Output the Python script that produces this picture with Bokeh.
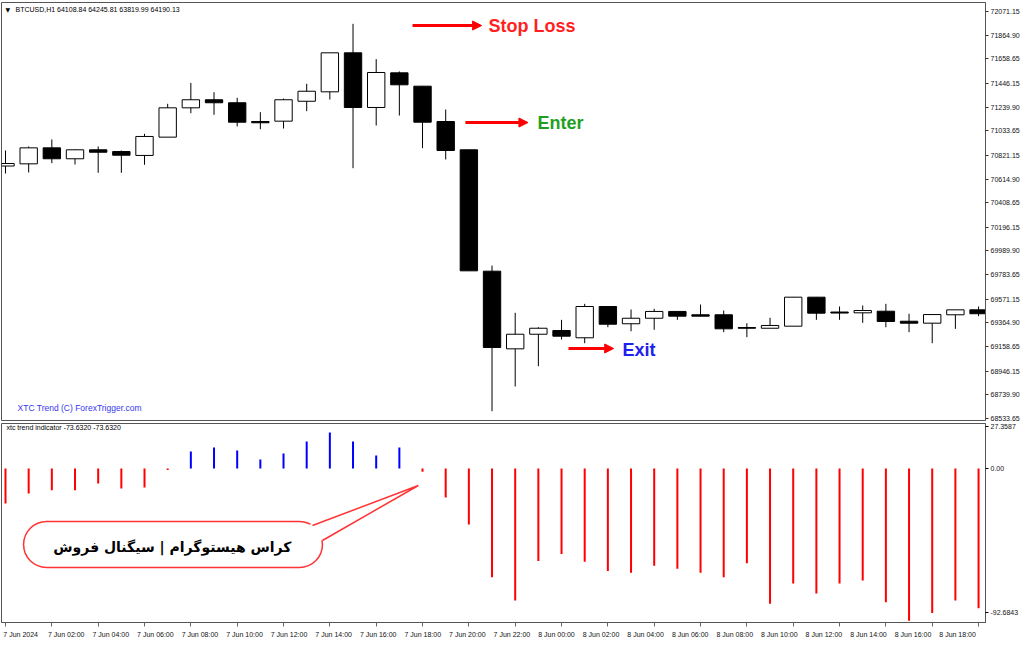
from bokeh.plotting import figure
from bokeh.layouts import column
from bokeh.models import (ColumnDataSource, Range1d, FixedTicker, PrintfTickFormatter,
                          Label, Arrow, NormalHead, BoxAnnotation)
from bokeh.core.properties import value
from bokeh.embed import file_html
from bokeh.resources import INLINE

# ---------------- data ----------------
hours = list(range(43))  # hours since 7 Jun 2024 00:00 (H1 bars)
opens = [70728, 70747, 70886, 70791, 70869, 70854, 70820, 70979, 71234, 71304,
         71278, 71115, 71118, 71291, 71373, 71712, 71237, 71538, 71422, 71115,
         70869, 69814, 69139, 69266, 69298, 69235, 69507, 69357, 69405, 69464,
         69435, 69435, 69324, 69318, 69336, 69588, 69459, 69452, 69466, 69379,
         69362, 69435, 69478]
highs = [70863, 70898, 70959, 70872, 70898, 70863, 71008, 71269, 71451, 71370,
         71321, 71196, 71315, 71443, 71712, 71964, 71657, 71550, 71422, 71219,
         70869, 69863, 69452, 69327, 69391, 69530, 69507, 69481, 69487, 69464,
         69524, 69472, 69362, 69409, 69588, 69588, 69507, 69516, 69530, 69444,
         69437, 69478, 69507]
lows = [70663, 70672, 70753, 70741, 70669, 70669, 70739, 70979, 71187, 71173,
        71072, 71048, 71054, 71205, 71306, 70709, 71080, 71167, 70883, 70785,
        69817, 68597, 68812, 68988, 69220, 69188, 69327, 69292, 69305, 69391,
        69423, 69284, 69240, 69318, 69336, 69391, 69391, 69365, 69327, 69284,
        69188, 69313, 69423]
closes = [70750, 70886, 70791, 70869, 70848, 70822, 70985, 71234, 71304, 71278,
          71109, 71104, 71304, 71378, 71712, 71237, 71541, 71434, 71109, 70863,
          69817, 69151, 69266, 69318, 69249, 69507, 69353, 69405, 69464, 69423,
          69423, 69313, 69318, 69342, 69588, 69449, 69450, 69472, 69377, 69362,
          69437, 69478, 69444]
xtc_trend = [-22.5, -16, -14, -14, -9.7, -12.9, -12.2, -1.0, 11, 13.5,
             11.6, 5.8, 9.7, 17.4, 23.2, 17.4, 8.4, 13.5, -2.0, -18.7,
             -36, -70, -85, -59.5, -55, -60, -66, -67, -62.5, -64.5,
             -67, -70, -61, -87, -74, -80.5, -74, -72, -86, -98,
             -93, -85, -90]

price_ticks = [72071.15, 71864.90, 71658.65, 71446.15, 71239.90, 71033.65,
               70821.15, 70614.90, 70408.65, 70196.15, 69989.90, 69783.65,
               69571.15, 69364.90, 69158.65, 68946.15, 68739.90, 68533.65]
ind_ticks = [27.3587, 0.0, -92.6843]
ind_tick_labels = ["27.3587", "0.00", "-92.6843"]
time_ticks = list(range(0, 43, 2))
time_labels = ["7 Jun 2024", "7 Jun 02:00", "7 Jun 04:00", "7 Jun 06:00", "7 Jun 08:00",
               "7 Jun 10:00", "7 Jun 12:00", "7 Jun 14:00", "7 Jun 16:00", "7 Jun 18:00",
               "7 Jun 20:00", "7 Jun 22:00", "8 Jun 00:00", "8 Jun 02:00", "8 Jun 04:00",
               "8 Jun 06:00", "8 Jun 08:00", "8 Jun 10:00", "8 Jun 12:00", "8 Jun 14:00",
               "8 Jun 16:00", "8 Jun 18:00"]

# ---------------- sources ----------------
candles = ColumnDataSource(dict(
    x=hours, open=opens, high=highs, low=lows, close=closes,
    top=[max(o, c) for o, c in zip(opens, closes)],
    bottom=[min(o, c) for o, c in zip(opens, closes)],
    fill=["white" if c >= o else "black" for o, c in zip(opens, closes)],
))
hist = ColumnDataSource(dict(
    x=hours, y=xtc_trend, y0=[0] * len(hours),
    color=["#0000ff" if v > 0 else "#ff0000" for v in xtc_trend],
))

FONT = "Liberation Sans"
W = 1024
X0, X1 = -0.173, 42.30          # visible hours inside the chart frames
FRAME_W = W - 1 - 39            # frame width in pixels
xr = Range1d(X0, X1)

# ---------------- price panel ----------------
p1 = figure(width=W, height=423, x_range=xr, y_range=Range1d(68516.1, 72149.4),
            y_axis_location="right", x_axis_location=None,
            toolbar_location=None, output_backend="svg",
            min_border_left=1, min_border_right=39, min_border_top=2, min_border_bottom=3)
p1.grid.visible = False
p1.outline_line_color = "#555555"
p1.background_fill_color = "white"
p1.border_fill_color = "white"
ya = p1.yaxis[0]
ya.ticker = FixedTicker(ticks=price_ticks)
ya.formatter = PrintfTickFormatter(format="%.2f")
ya.major_label_text_font = FONT
ya.major_label_text_font_size = "7px"
ya.major_label_text_color = "#111111"
ya.major_tick_out = 3
ya.major_tick_in = 0
ya.major_label_standoff = 2
ya.axis_line_color = "#555555"
ya.major_tick_line_color = "#333333"

p1.segment(x0="x", y0="high", x1="x", y1="low", source=candles,
           line_color="black", line_width=1)
p1.vbar(x="x", top="top", bottom="bottom", width=0.75, source=candles,
        fill_color="fill", line_color="black", line_width=1)

p1.add_layout(Label(x=0.0, y=72088, text="\u25BC", text_font="DejaVu Sans",
                    text_font_size="6px", text_baseline="middle", text_color="black"))
p1.add_layout(Label(x=0.43, y=72088, text="BTCUSD,H1  64108.84 64245.81 63819.99 64190.13",
                    text_font=FONT, text_font_size="7px", text_baseline="middle",
                    text_color="black"))
p1.add_layout(Label(x=0.52, y=68629, text="XTC Trend (C) ForexTrigger.com",
                    text_font=FONT, text_font_size="8.5px", text_baseline="middle",
                    text_color="#3535f0"))

def signal(xs, xe, y, tx, ty, txt, col):
    p1.add_layout(Arrow(x_start=xs, y_start=y, x_end=xe, y_end=y,
                        line_color="#ff0000", line_width=3,
                        end=NormalHead(size=9, fill_color="#ff0000", line_color="#ff0000")))
    p1.add_layout(Label(x=tx, y=ty, text=txt, text_font=FONT, text_font_style="bold",
                        text_font_size="18px", text_baseline="middle", text_color=col))

signal(17.57, 20.55, 71949, 20.85, 71941, "Stop Loss", "#ff1f1f")
signal(19.85, 22.55, 71106, 22.96, 71098, "Enter", "#1f9f1f")
signal(24.30, 26.25, 69142, 26.63, 69125, "Exit", "#2020ee")

# ---------------- indicator panel ----------------
p2 = figure(width=W, height=204, x_range=xr, y_range=Range1d(-99.1, 29.0),
            y_axis_location="right", toolbar_location=None, output_backend="svg",
            min_border_left=1, min_border_right=39, min_border_top=0, min_border_bottom=5)
p2.grid.visible = False
p2.outline_line_color = "#555555"
p2.border_fill_color = "white"
ya2 = p2.yaxis[0]
ya2.ticker = FixedTicker(ticks=ind_ticks)
ya2.major_label_overrides = {t: s for t, s in zip(ind_ticks, ind_tick_labels)}
ya2.major_label_text_font = FONT
ya2.major_label_text_font_size = "7px"
ya2.major_label_text_color = "#111111"
ya2.major_tick_out = 3
ya2.major_tick_in = 0
ya2.major_label_standoff = 2
ya2.axis_line_color = "#555555"

xa = p2.xaxis[0]
xa.ticker = FixedTicker(ticks=time_ticks)
xa.major_label_text_font_size = "0px"
xa.major_label_text_alpha = 0
xa.major_label_standoff = 0
xa.major_tick_out = 4
xa.major_tick_in = 0
xa.axis_line_color = "#555555"
xa.major_tick_line_color = "#666666"

p2.segment(x0="x", y0="y0", x1="x", y1="y", source=hist, line_color="color", line_width=2)

p2.add_layout(Label(x=0.04, y=26.4, text="xtc trend indicator -73.6320 -73.6320",
                    text_font=FONT, text_font_size="7px", text_baseline="middle",
                    text_color="black"))

# callout bubble
p2.add_layout(BoxAnnotation(left=0.78, right=13.68, top=-34.1, bottom=-63.7,
                            fill_color="white", fill_alpha=1.0,
                            line_color="#ff3333", line_alpha=1.0, line_width=1.5,
                            border_radius=23))
p2.patch(x=[13.0, 17.82, 13.68, 12.8], y=[-36.9, -10.9, -46.3, -42.0],
         fill_color="white", line_color=None, level="overlay")
p2.line(x=[13.25, 17.82, 13.68], y=[-36.7, -10.9, -46.3],
        line_color="#ff3333", line_width=1.5, level="overlay")
p2.add_layout(Label(x=7.2, y=-50.3, text="کراس هیستوگرام | سیگنال فروش",
                    text_font="DejaVu Sans", text_font_style="bold", text_font_size="14px",
                    text_align="center", text_baseline="middle", text_color="black"))

# ---------------- time-label strip (same hour scale, wider so the last label fits) ----------------
H3 = 646 - 423 - 204
x3_end = X0 + (X1 - X0) * (W - 1) / FRAME_W
p3 = figure(width=W, height=H3, x_range=Range1d(X0, x3_end), y_range=Range1d(0, H3),
            x_axis_location=None, y_axis_location=None,
            toolbar_location=None, output_backend="svg",
            min_border_left=1, min_border_right=0, min_border_top=0, min_border_bottom=0)
p3.grid.visible = False
p3.outline_line_color = None
p3.border_fill_color = "white"
p3.text(x=time_ticks, y=[H3 - 7] * len(time_ticks), text=time_labels, x_offset=-2,
        text_font=value(FONT), text_font_size="7px", text_color="#111111",
        text_align="left", text_baseline="middle")

layout = column(p1, p2, p3, spacing=0)
open("out.html", "w").write(file_html(layout, INLINE))
